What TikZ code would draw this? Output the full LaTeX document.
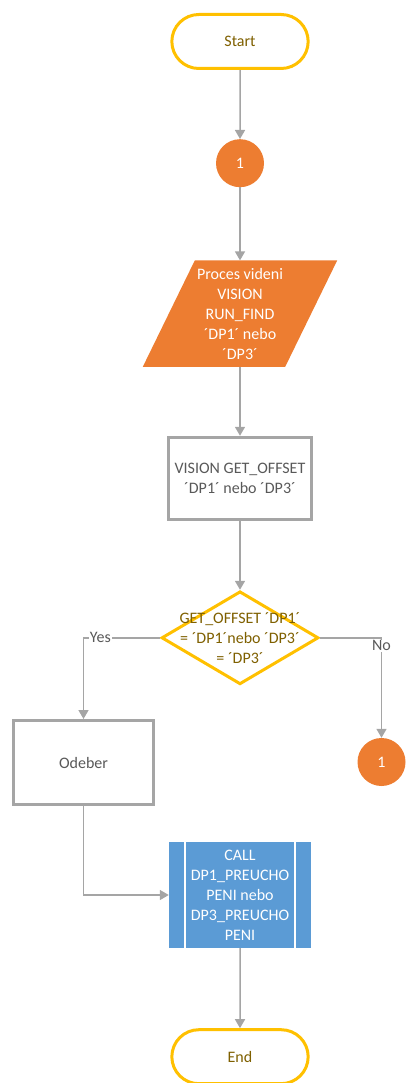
\documentclass[tikz,border=0pt]{standalone}
\usepackage{fontspec}
\setmainfont{Carlito}
\usetikzlibrary{arrows.meta, positioning, shapes.geometric, shapes.misc, backgrounds}

\definecolor{termyellow}{HTML}{FFC000}
\definecolor{termtext}{HTML}{7F6000}
\definecolor{linegray}{HTML}{A5A5A5}
\definecolor{boxtext}{HTML}{595959}
\definecolor{connorange}{HTML}{ED7D31}
\definecolor{callblue}{HTML}{5B9BD5}

\tikzset{
  terminal/.style={rounded rectangle, draw=termyellow, line width=3pt, fill=white,
    minimum width=143pt, minimum height=54pt, text=termtext},
  connector/.style={circle, fill=connorange, minimum size=48pt, inner sep=0pt, text=white},
  io/.style={rectangle, minimum width=142pt, minimum height=106pt, inner sep=0pt,
    text=white, align=center},
  procbox/.style={rectangle, draw=linegray, line width=3pt, fill=white,
    minimum width=143pt, minimum height=82pt, text=boxtext, align=center},
  decision/.style={diamond, draw=termyellow, line width=3pt, fill=white,
    minimum width=157pt, minimum height=93pt, inner sep=0pt},
  subproc/.style={rectangle, fill=callblue, minimum width=142pt, minimum height=106pt,
    text=white, align=center},
  flow/.style={draw=linegray, line width=1.5pt, -{Triangle[length=9pt,width=10pt]}},
  branchlabel/.style={fill=white, text=boxtext, inner sep=1pt},
}

\begin{document}
\begin{tikzpicture}[x=1pt, y=1pt, node distance=69pt, font=\fontsize{16}{20}\selectfont]
    \useasboundingbox (0,0) rectangle (406,-1083);

    % hlavni vetev
    \node[terminal] (start) at (240,-41.5) {Start};
    \node[connector] (c1) [below=of start] {1};
    \node[io] (find) [below=73pt of c1] {Proces videni\\VISION\\RUN\_FIND\\´DP1´ nebo\\´DP3´};
    \node[procbox] (offset) [below=of find] {VISION GET\_OFFSET\\´DP1´ nebo ´DP3´};
    \node[decision, label={[text=termtext, align=center]center:GET\_OFFSET ´DP1´\\= ´DP1´nebo ´DP3´\\= ´DP3´}] (dec) [below=of offset] {};

    % rovnobeznik pod textem vstupu
    \begin{scope}[on background layer]
        \fill[connorange] ([xshift=-26pt]find.south west) -- ([xshift=26pt]find.north west)
            -- ([xshift=26pt]find.north east) -- ([xshift=-26pt]find.south east) -- cycle;
    \end{scope}

    % vetve Yes / No
    \node[procbox, minimum width=140pt, minimum height=84pt] (odeber) at (83.5,-762.5) {Odeber};
    \node[connector] (c2) at (381.5,-762) {1};
    \node[subproc] (call) at (240,-895) {CALL\\DP1\_PREUCHO\\PENI nebo\\DP3\_PREUCHO\\PENI};
    \node[terminal] (end) [below=80pt of call] {End};

    % svisle pruhy podprogramu
    \draw[white, line width=1.5pt] ([xshift=16pt]call.north west) -- ([xshift=16pt]call.south west);
    \draw[white, line width=1.5pt] ([xshift=-16pt]call.north east) -- ([xshift=-16pt]call.south east);

    % spojnice
    \draw[flow] (start) -- (c1);
    \draw[flow] (c1) -- (find);
    \draw[flow] (find) -- (offset);
    \draw[flow] (offset) -- (dec);
    \draw[flow] (dec.west) -| node[branchlabel, pos=0.39] {Yes} (odeber.north);
    \draw[flow] (dec.east) -| node[branchlabel, pos=0.5, yshift=-8pt] {No} (c2.north);
    \draw[flow] (odeber.south) |- (call.west);
    \draw[flow] (call) -- (end);
\end{tikzpicture}
\end{document}
